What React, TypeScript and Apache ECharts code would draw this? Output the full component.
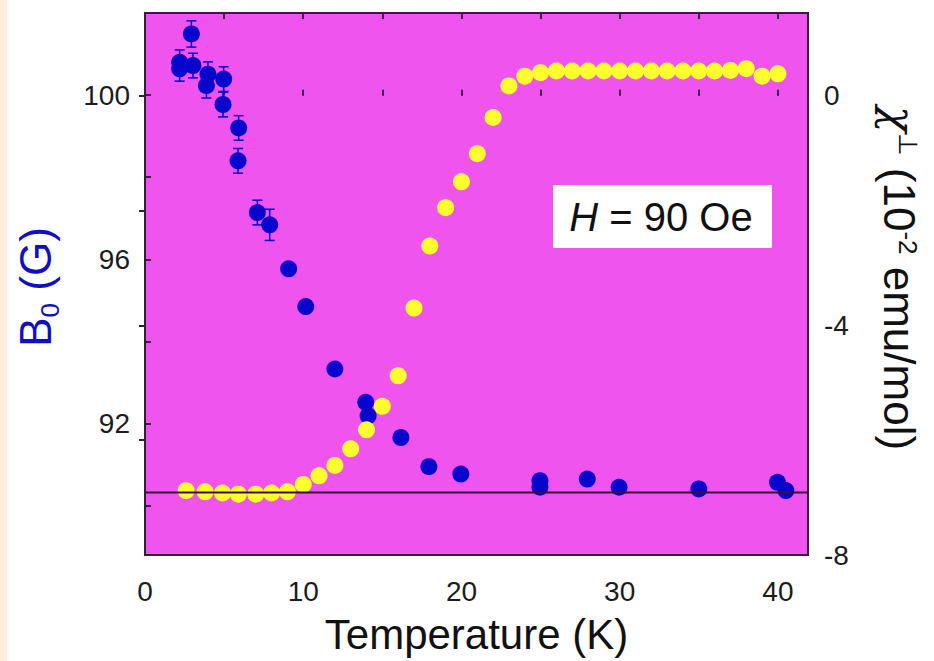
import React, { useEffect, useRef } from 'react';
import * as echarts from 'echarts';

// ---- axis ticks / ranges ----
const xMin = 0;
const xMax = 41.9;
const xLabelTicks = [0, 10, 20, 30, 40];
const xAllTicks = [5, 10, 15, 20, 25, 30, 35, 40];
const leftMin = 88.8;
const leftMax = 102.0;
const leftLabelTicks = [92, 96, 100];
const leftAllTicks = [90, 92, 94, 96, 98, 100];
const rightMin = -8;
const rightMax = 1.44;
const rightLabelTicks = [-8, -4, 0];
const rightAllTicks = [-6, -4, -2, 0];

// ---- chi (yellow, right axis, 10^-2 emu/mol) ----
const chiT = [2.6, 3.8, 4.9, 5.9, 7.0, 8.0, 9.0, 10, 11, 12, 13, 14, 15, 16, 17, 18, 19, 20, 21, 22, 23,
  24, 25, 26, 27, 28, 29, 30, 31, 32, 33, 34, 35, 36, 37, 38, 39, 40];
const chiVal = [-6.88, -6.9, -6.92, -6.94, -6.94, -6.92, -6.9, -6.77, -6.62, -6.44, -6.15, -5.82, -5.41, -4.88, -3.7, -2.62, -1.95, -1.5, -1.01, -0.38, 0.17,
  0.34, 0.4, 0.43, 0.43, 0.43, 0.43, 0.43, 0.43, 0.43, 0.43, 0.43, 0.43, 0.43, 0.44, 0.47, 0.34, 0.38];

// ---- B0 (blue, left axis, G) ----
const bT = [2.19, 2.19, 2.93, 3.03, 3.98, 3.88, 4.97, 4.93, 5.92, 5.88, 7.1, 7.88, 9.08, 10.16, 12.0, 13.95, 14.1, 16.17, 17.94, 19.96, 24.96, 24.96, 27.95, 29.96, 35.0, 39.97, 40.5];
const bVal = [100.8, 100.64, 101.49, 100.72, 100.51, 100.23, 100.39, 99.77, 99.2, 98.4, 97.14, 96.84, 95.77, 94.85, 93.33, 92.52, 92.19, 91.66, 90.95, 90.77, 90.61, 90.45, 90.65, 90.45, 90.41, 90.57, 90.37];
const bErr = [0.3, 0.3, 0.32, 0.3, 0.3, 0.3, 0.3, 0.3, 0.3, 0.3, 0.3, 0.38, 0, 0, 0, 0, 0, 0, 0, 0, 0, 0, 0, 0, 0, 0, 0];
const baselineB = 90.32;

const FONT = '"Liberation Sans", Arial, Helvetica, sans-serif';
const AX = '#3a1a3a';
const BLUE = '#0505cc';
const YELLOW = '#ffff30';
const MAGENTA = '#ef54ef';

function tickAxis(extra: any) {
  return {
    type: 'value',
    splitLine: { show: false },
    axisLine: { show: false },
    ...extra,
  };
}

export default function App() {
  const ref = useRef<HTMLDivElement>(null);
  useEffect(() => {
    if (!ref.current) return;
    const chart = echarts.init(ref.current, undefined, { renderer: 'svg' });
    const tickStyle = { color: AX, width: 2 };
    const labelStyle = { fontSize: 28, color: '#1c1c1c', fontFamily: FONT };
    const option: any = {
      animation: false,
      backgroundColor: '#ffffff',
      grid: {
        left: 145, top: 13, width: 663, height: 542,
        show: true, backgroundColor: MAGENTA, borderColor: AX, borderWidth: 2,
        containLabel: false, outerBoundsMode: 'none',
      },
      xAxis: [
        tickAxis({
          position: 'bottom', min: xMin, max: xMax,
          axisTick: { inside: true, length: 6, customValues: xAllTicks, lineStyle: tickStyle },
          axisLabel: { customValues: xLabelTicks, margin: 22, ...labelStyle },
        }),
        tickAxis({
          position: 'top', min: xMin, max: xMax,
          axisTick: { inside: true, length: 6, customValues: xAllTicks, lineStyle: tickStyle },
          axisLabel: { show: false },
        }),
      ],
      yAxis: [
        tickAxis({
          position: 'left', min: leftMin, max: leftMax,
          axisTick: { inside: true, length: 6, customValues: leftAllTicks, lineStyle: tickStyle },
          axisLabel: { customValues: leftLabelTicks, margin: 15, ...labelStyle },
        }),
        tickAxis({
          position: 'right', min: rightMin, max: rightMax,
          axisTick: { inside: true, length: 6, customValues: rightAllTicks, lineStyle: tickStyle },
          axisLabel: { customValues: rightLabelTicks, margin: 16, ...labelStyle },
        }),
      ],
      series: [
        {
          type: 'custom',
          xAxisIndex: 0, yAxisIndex: 0,
          encode: { x: 0, y: 1 },
          data: bT.map((t, i) => [t, bVal[i], bErr[i]]),
          z: 2,
          renderItem: (params: any, api: any) => {
            const x = api.value(0), y = api.value(1), e = api.value(2);
            if (!e) return { type: 'group', children: [] };
            const top = api.coord([x, y + e]);
            const bot = api.coord([x, y - e]);
            const cw = 5;
            const st = { stroke: BLUE, lineWidth: 1.5 };
            return {
              type: 'group',
              children: [
                { type: 'line', shape: { x1: top[0], y1: top[1], x2: bot[0], y2: bot[1] }, style: st },
                { type: 'line', shape: { x1: top[0] - cw, y1: top[1], x2: top[0] + cw, y2: top[1] }, style: st },
                { type: 'line', shape: { x1: bot[0] - cw, y1: bot[1], x2: bot[0] + cw, y2: bot[1] }, style: st },
              ],
            };
          },
        },
        {
          type: 'scatter', name: 'B0',
          xAxisIndex: 0, yAxisIndex: 0,
          symbol: 'circle', symbolSize: 17,
          itemStyle: { color: BLUE, opacity: 1 },
          data: bT.map((t, i) => [t, bVal[i]]),
          z: 3,
        },
        {
          type: 'scatter', name: 'chi',
          xAxisIndex: 0, yAxisIndex: 1,
          symbol: 'circle', symbolSize: 17,
          itemStyle: { color: YELLOW, opacity: 1 },
          data: chiT.map((t, i) => [t, chiVal[i]]),
          z: 4,
        },
        {
          type: 'line',
          xAxisIndex: 0, yAxisIndex: 0,
          symbol: 'none',
          lineStyle: { color: '#3a1038', width: 2 },
          data: [[xMin, baselineB], [xMax, baselineB]],
          z: 5,
        },
      ],
      graphic: [
        { type: 'rect', shape: { x: 0, y: 0, width: 7, height: 661 }, style: { fill: '#fdf0e0' }, z: 1 },
        { type: 'rect', shape: { x: 553, y: 185, width: 219, height: 63 }, style: { fill: '#ffffff' }, z: 10 },
        {
          type: 'text', x: 661, y: 217, z: 11,
          style: {
            text: '{i|H}{n| = 90 Oe}',
            align: 'center', verticalAlign: 'middle',
            rich: {
              i: { fontSize: 40, fontStyle: 'italic', fontFamily: FONT, fill: '#111' },
              n: { fontSize: 40, fontFamily: FONT, fill: '#111' },
            },
          },
        },
        {
          type: 'text', x: 35, y: 287, rotation: Math.PI / 2, z: 11,
          style: {
            text: '{a|B}{b|0}{a| (G)}',
            align: 'center', verticalAlign: 'middle',
            rich: {
              a: { fontSize: 44, lineHeight: 44, verticalAlign: 'top', fontFamily: FONT, fill: '#1010c0' },
              b: { fontSize: 26, lineHeight: 26, padding: [24, 0, 0, 0], verticalAlign: 'top', fontFamily: FONT, fill: '#1010c0' },
            },
          },
        },
        {
          type: 'text', x: 899, y: 278, rotation: -Math.PI / 2, z: 11,
          style: {
            text: '{c|χ}{s|⊥}{a| (10}{s|-2}{a| emu/mol)}',
            align: 'center', verticalAlign: 'middle',
            rich: {
              c: { fontSize: 44, lineHeight: 44, verticalAlign: 'top', fontFamily: '"DejaVu Serif", serif', fontStyle: 'italic', fill: '#111' },
              a: { fontSize: 44, lineHeight: 44, verticalAlign: 'top', fontFamily: FONT, fill: '#111' },
              s: { fontSize: 26, lineHeight: 26, verticalAlign: 'top', fontFamily: FONT, fill: '#111' },
            },
          },
        },
        {
          type: 'text', x: 476.5, y: 634, z: 11,
          style: {
            text: 'Temperature (K)',
            align: 'center', verticalAlign: 'middle',
            fontSize: 42, fontFamily: FONT, fill: '#111',
          },
        },
      ],
    };
    chart.setOption(option);
    return () => chart.dispose();
  }, []);
  return (
    <div
      ref={ref}
      style={{ position: 'absolute', left: 0, top: 0, width: 934, height: 661, background: '#fff' }}
    />
  );
}
